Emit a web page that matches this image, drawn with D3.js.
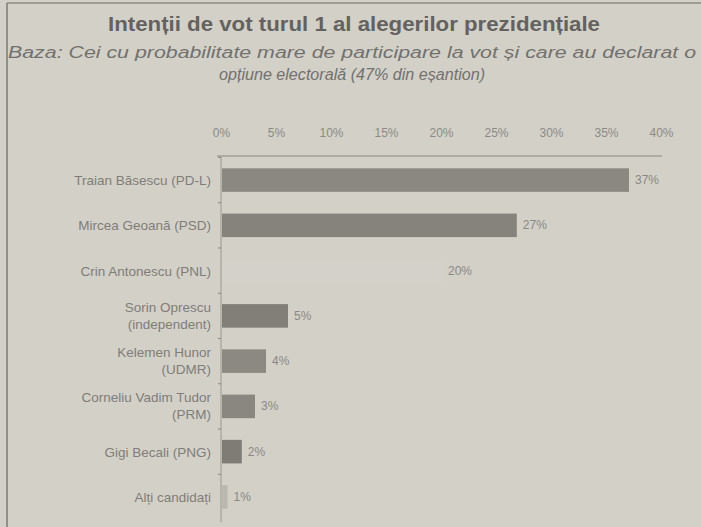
<!DOCTYPE html>
<html>
<head>
<meta charset="utf-8">
<script src="https://cdn.jsdelivr.net/npm/d3@7"></script>
<style>
  body { margin: 0; background: #d3d0c8; }
  svg { display: block; font-family: 'Liberation Sans', Arial, sans-serif; }
</style>
</head>
<body>
<div id="chart"></div>
<script>
// Data
const candidates = [
  'Traian Băsescu (PD-L)',
  'Mircea Geoană (PSD)',
  'Crin Antonescu (PNL)',
  'Sorin Oprescu\n(independent)',
  'Kelemen Hunor\n(UDMR)',
  'Corneliu Vadim Tudor\n(PRM)',
  'Gigi Becali (PNG)',
  'Alți candidați'
];
const barValues = [37, 26.8, 20, 6, 4, 3, 1.8, 0.5];
const valueLabels = ['37%', '27%', '20%', '5%', '4%', '3%', '2%', '1%'];
const tickValues = [0, 5, 10, 15, 20, 25, 30, 35, 40];

const title = 'Intenții de vot turul 1 al alegerilor prezidențiale';
const subtitle = [
  'Baza: Cei cu probabilitate mare de participare la vot și care au declarat o',
  'opțiune electorală (47% din eșantion)'
];

const W = 701, H = 527;

const svg = d3.select('#chart').append('svg')
  .attr('width', W)
  .attr('height', H)
  .attr('viewBox', `0 0 ${W} ${H}`);

svg.append('rect')
  .attr('width', W).attr('height', H)
  .attr('fill', '#d3d0c8');

// frame (top + left edge of the clipping)
svg.append('line')
  .attr('x1', 7).attr('x2', W).attr('y1', 3).attr('y2', 3)
  .attr('stroke', '#8e8c88').attr('stroke-width', 1.5);
svg.append('line')
  .attr('x1', 7).attr('x2', 7).attr('y1', 3).attr('y2', H)
  .attr('stroke', '#7c7a76').attr('stroke-width', 1.5);

// Titles
svg.append('text')
  .attr('x', 354).attr('y', 31)
  .attr('text-anchor', 'middle')
  .attr('font-size', 20).attr('font-weight', 'bold')
  .attr('fill', '#636260')
  .attr('textLength', 492).attr('lengthAdjust', 'spacingAndGlyphs')
  .text(title);

const subW = [688, 266];
subtitle.forEach((s, i) => {
  svg.append('text')
    .attr('x', 352).attr('y', 58 + i * 22)
    .attr('text-anchor', 'middle')
    .attr('font-size', 16).attr('font-style', 'italic')
    .attr('fill', '#72716e')
    .attr('textLength', subW[i]).attr('lengthAdjust', 'spacingAndGlyphs')
    .text(s);
});

// Scales
const x = d3.scaleLinear().domain([0, 40]).range([221, 661]);
const y = d3.scaleBand().domain(candidates).range([157, 520])
  .paddingInner(0.48).paddingOuter(0.25);

// the Crin Antonescu bar barely printed on the scan
const fill = d3.scaleOrdinal()
  .domain(candidates)
  .range(['#8b8781', '#86827c', '#d4d1ca', '#827e78', '#8c8882', '#8a8680', '#7f7b75', '#bcb8b0']);

// X axis on top
const gX = svg.append('g')
  .attr('transform', 'translate(0,156)')
  .call(d3.axisTop(x).tickValues(tickValues).tickFormat(d => d + '%').tickSize(0).tickPadding(19));
gX.select('.domain').attr('stroke', '#8a8884').attr('stroke-width', 1.2)
  .attr('d', `M${x(0) - 4},0H${x(40) + 1}`);
gX.selectAll('text')
  .attr('fill', '#8c8a86')
  .attr('font-size', 12)
  .attr('font-family', "'Liberation Sans', Arial, sans-serif");

// Y axis line with small marks between rows
const gY = svg.append('g');
gY.append('line')
  .attr('x1', x(0)).attr('x2', x(0))
  .attr('y1', 156).attr('y2', 522)
  .attr('stroke', '#9a9894').attr('stroke-width', 1);
const step = y.step();
candidates.forEach((c, i) => {
  gY.append('line')
    .attr('x1', x(0) - 3).attr('x2', x(0))
    .attr('y1', y(c) - step * y.paddingInner() / 2)
    .attr('y2', y(c) - step * y.paddingInner() / 2)
    .attr('stroke', '#8a8884');
});

// Bars
svg.append('g').selectAll('rect')
  .data(candidates)
  .join('rect')
  .attr('x', x(0) + 1)
  .attr('y', d => y(d))
  .attr('width', (d, i) => x(barValues[i]) - x(0))
  .attr('height', y.bandwidth())
  .attr('fill', d => fill(d));

// Value labels
svg.append('g').selectAll('text')
  .data(candidates)
  .join('text')
  .attr('x', (d, i) => x(barValues[i]) + 7)
  .attr('y', d => y(d) + y.bandwidth() / 2 + 4)
  .attr('font-size', 12)
  .attr('fill', '#8a8884')
  .text((d, i) => valueLabels[i]);

// Category labels
const gL = svg.append('g');
candidates.forEach((c) => {
  const lines = c.split('\n');
  const cy = y(c) + y.bandwidth() / 2;
  const t = gL.append('text')
    .attr('x', 211)
    .attr('text-anchor', 'end')
    .attr('font-size', 13.5)
    .attr('fill', '#7f7d79');
  lines.forEach((l, k) => {
    t.append('tspan')
      .attr('x', 211)
      .attr('y', lines.length === 1 ? cy + 5 : cy - 4 + k * 17)
      .text(l);
  });
});
</script>
</body>
</html>
